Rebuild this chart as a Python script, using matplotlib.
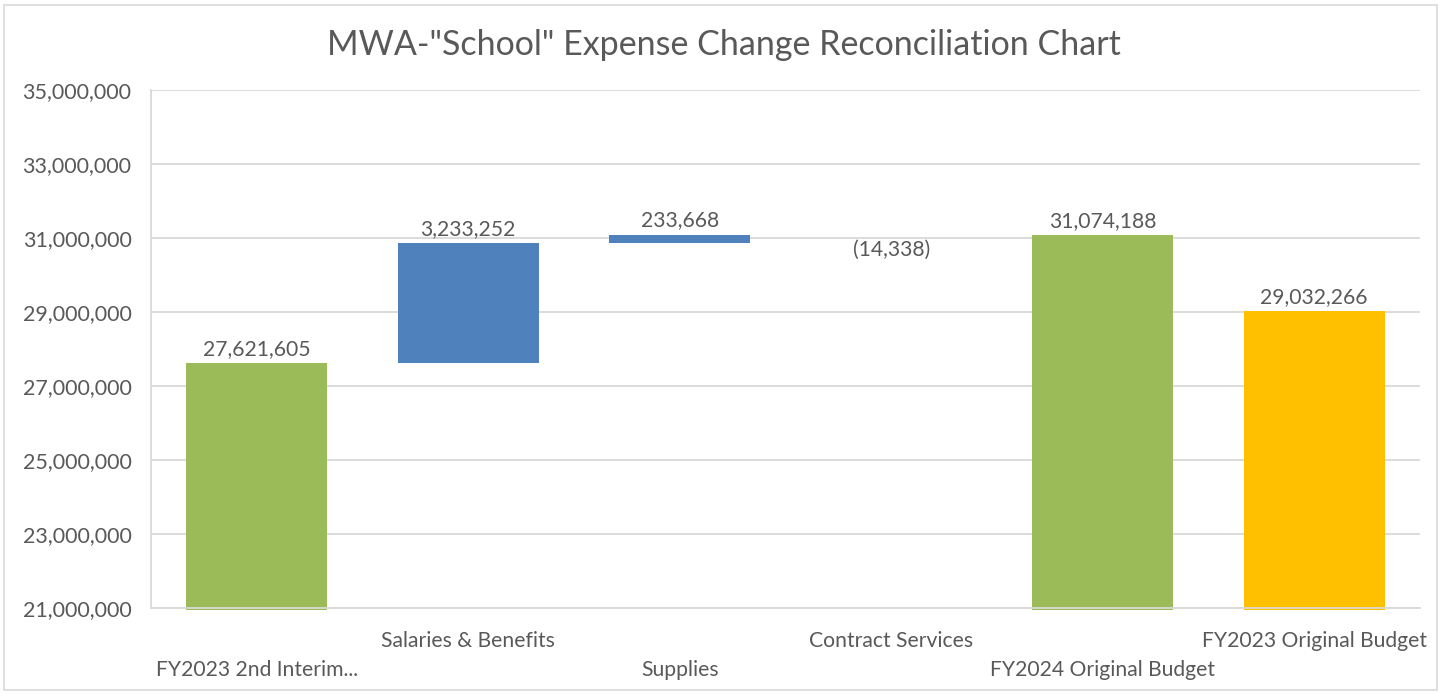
import matplotlib
matplotlib.use("Agg")
import matplotlib.pyplot as plt
from matplotlib.patches import Rectangle
from matplotlib.ticker import FuncFormatter
import numpy as np

# ---- data ----
categories = ["FY2023 2nd Interim...", "Salaries & Benefits", "Supplies",
              "Contract Services", "FY2024 Original Budget", "FY2023 Original Budget"]
values = [27621605, 3233252, 233668, -14338, 31074188, 29032266]
is_total = [True, False, False, False, True, True]
bar_colors = ["#9BBB59", "#4F81BD", "#4F81BD", "#4F81BD", "#9BBB59", "#FFC000"]
label_texts = ["27,621,605", "3,233,252", "233,668", "(14,338)", "31,074,188", "29,032,266"]
y_min, y_max, y_step = 21000000, 35000000, 2000000

plt.rcParams['font.family'] = ['Lato', 'DejaVu Sans']
txt_color = "#595959"
grid_color = "#D9D9D9"

fig = plt.figure(figsize=(14.47, 6.94), dpi=100)
ax = fig.add_axes([151/1447, 1-608/694, (1420-151)/1447, (608-90)/694])

# chart border
fig.patches.append(Rectangle((4/1447, 4/694), (1437-4)/1447, (689-4)/694,
                             transform=fig.transFigure, fill=False,
                             edgecolor=grid_color, linewidth=1.2))

x = np.arange(len(categories))
width = 0.667
running = 0
below = (y_max - y_min) * 0.004
for i, (v, tot, c) in enumerate(zip(values, is_total, bar_colors)):
    if tot:
        bottom = y_min - below
        height = v - bottom
        running = v
    else:
        bottom = running
        height = v
        running = running + v
    ax.bar(x[i], height, bottom=bottom, width=width, color=c, zorder=2, clip_on=False)
    if v >= 0:
        ax.annotate(label_texts[i], (x[i], max(bottom, bottom + height)), xytext=(0, 3),
                    textcoords="offset points", ha="center", va="bottom",
                    fontsize=15.2, color=txt_color)
    else:
        ax.annotate(label_texts[i], (x[i], min(bottom, bottom + height)), xytext=(0, -3),
                    textcoords="offset points", ha="center", va="top",
                    fontsize=15.2, color=txt_color)

ax.set_xlim(-0.5, len(categories) - 0.5)
ax.set_ylim(y_min, y_max)
ax.set_yticks(np.arange(y_min, y_max + 1, y_step))
ax.yaxis.set_major_formatter(FuncFormatter(lambda v, p: f"{int(v):,}"))
ax.tick_params(axis="y", length=0, pad=14, labelsize=15.5, labelcolor=txt_color)
ax.grid(axis="y", color=grid_color, linewidth=1.3, zorder=0)
ax.set_axisbelow(True)
for s in ["top", "right"]:
    ax.spines[s].set_visible(False)
ax.spines["left"].set_color(grid_color)
ax.spines["left"].set_linewidth(1.3)
ax.spines["bottom"].set_color(grid_color)
ax.spines["bottom"].set_linewidth(1.3)
ax.spines["bottom"].set_zorder(3)

ax.set_xticks(x)
ax.set_xticklabels([])
ax.tick_params(axis="x", length=0)
for i, lab in enumerate(categories):
    off = -24 if i % 2 == 1 else -45
    ax.annotate(lab, (x[i], y_min), xytext=(0, off), textcoords="offset points",
                ha="center", va="center", fontsize=15.2, color=txt_color,
                annotation_clip=False)

fig.text(724/1447, 1-45/694, 'MWA-"School" Expense Change Reconciliation Chart',
         ha="center", va="center", fontsize=24.5, color=txt_color)

fig.savefig("out.png", dpi=100)
